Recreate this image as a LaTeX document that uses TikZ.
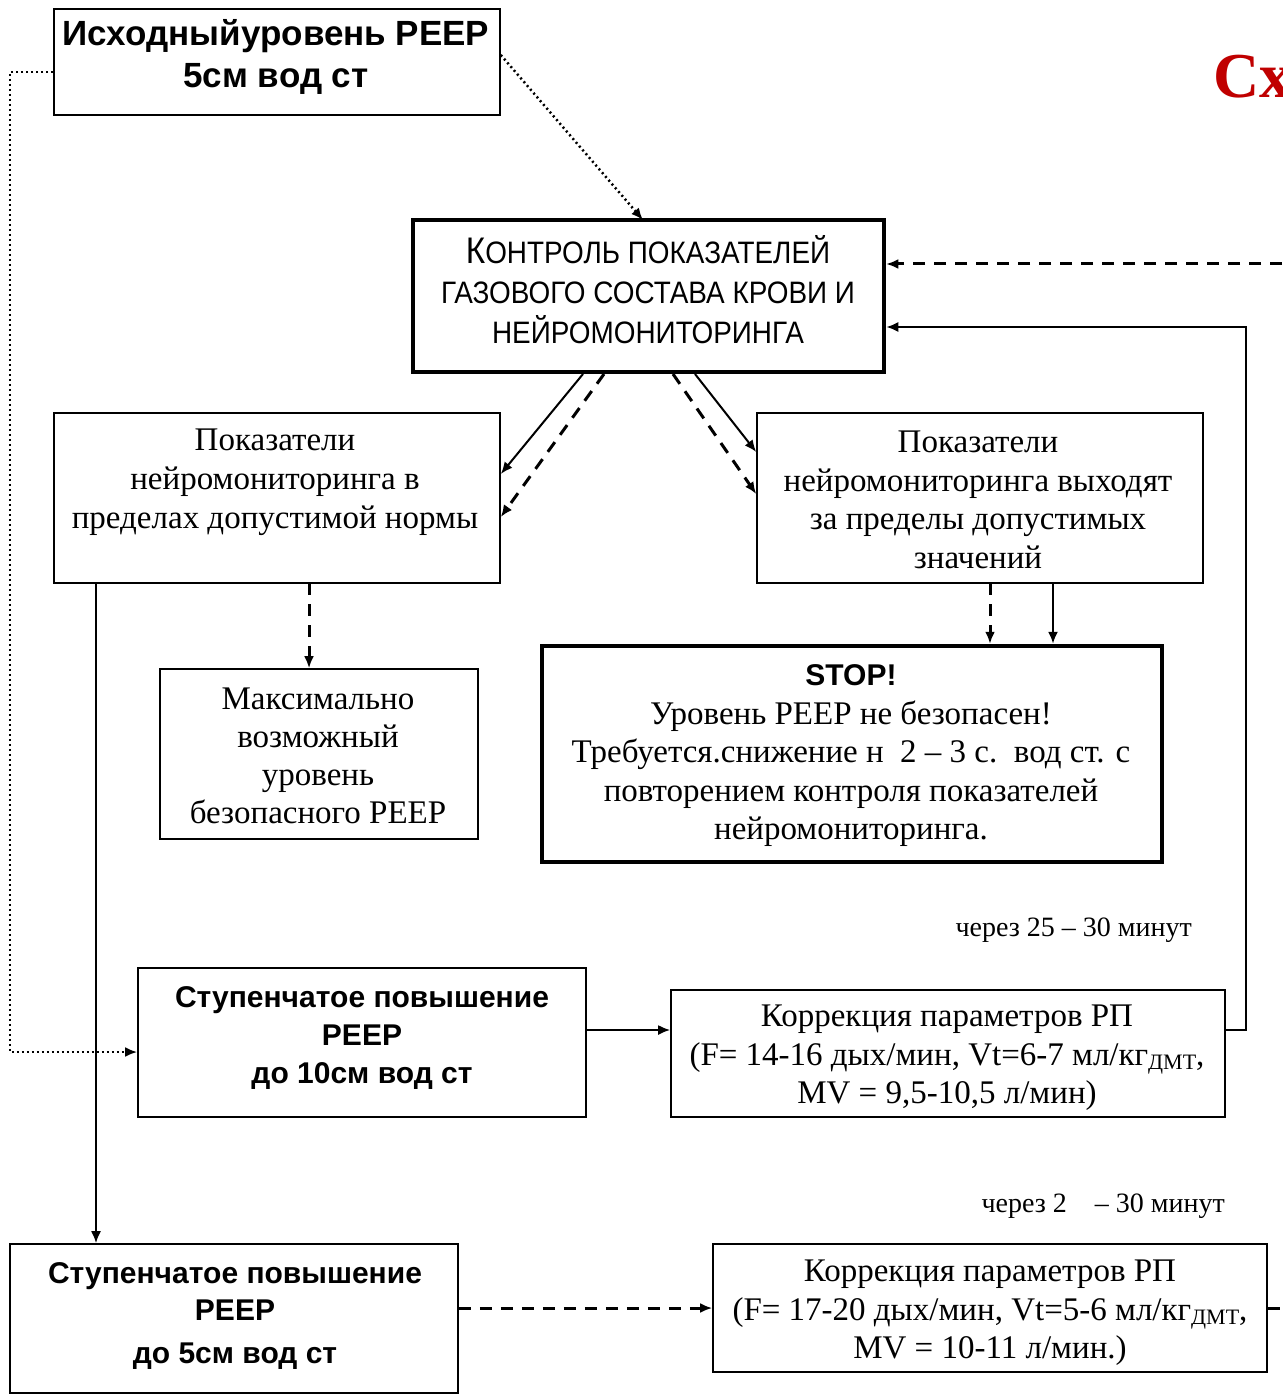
\documentclass[tikz,border=0pt]{standalone}
\usepackage{fontspec}
\setmainfont{Liberation Serif}
\newfontfamily\sansf{Liberation Sans}
\newfontfamily\narrowf{Liberation Sans}[FakeStretch=0.9]
\usetikzlibrary{arrows.meta}
\definecolor{titlered}{HTML}{C00000}
\begin{document}
\begin{tikzpicture}[x=1pt,y=-1pt,
  >={Latex[length=12pt,width=10pt]},
  box/.style={draw, line width=1.6pt, inner sep=0pt},
  thickbox/.style={draw, line width=4.5pt, inner sep=0pt},
  sertext/.style={align=center, inner sep=0pt, font=\fontsize{33}{38.5}\selectfont},
  sanstext/.style={align=center, inner sep=0pt, font=\sansf\bfseries\fontsize{30}{38.5}\selectfont},
  smalltext/.style={inner sep=0pt, font=\fontsize{28}{30}\selectfont},
  conn/.style={line width=2pt, ->},
  dashconn/.style={line width=3pt, dash pattern=on 12pt off 9pt, ->},
  dotconn/.style={line width=2.5pt, dash pattern=on 2pt off 3pt, ->}
]
\useasboundingbox (0,0) rectangle (1282,1396);
\fill[white] (0,0) rectangle (1282,1396);

% title (cut at page edge)
\begin{scope}
\clip (0,0) rectangle (1282,1396);
\node[anchor=west, inner sep=0pt, text=titlered, font=\bfseries\fontsize{64}{70}\selectfont] (title) at (1213,77) {Схема};
\end{scope}

% boxes
\node[box, minimum width=446pt, minimum height=106pt] (A) at (277,62) {};
\node[sanstext, font=\sansf\bfseries\fontsize{35}{42}\selectfont] (At) at (276,57) {Исходныйуровень PEEP\\5см вод ст};

\node[thickbox, minimum width=471pt, minimum height=152pt] (B) at (648.5,296) {};
\node[align=center, inner sep=0pt, font=\narrowf\fontsize{31}{40}\selectfont] (Bt) at (648,290)
  {{\fontsize{37}{40}\selectfont К}ОНТРОЛЬ ПОКАЗАТЕЛЕЙ\\ГАЗОВОГО СОСТАВА КРОВИ И\\НЕЙРОМОНИТОРИНГА};

\node[box, minimum width=446pt, minimum height=170pt] (C) at (277,498) {};
\node[sertext, font=\fontsize{33}{39}\selectfont] (Ct) at (275,482) {Показатели\\нейромониторинга в\\пределах допустимой нормы};

\node[box, minimum width=446pt, minimum height=170pt] (D) at (980,498) {};
\node[sertext] (Dt) at (978,500) {Показатели\\нейромониторинга выходят\\за пределы допустимых\\значений};

\node[box, minimum width=318pt, minimum height=170pt] (E) at (319,754) {};
\node[sertext, font=\fontsize{33}{38}\selectfont] (Et) at (318,756) {Максимально\\возможный\\уровень\\безопасного PEEP};

\node[thickbox, minimum width=620pt, minimum height=216pt] (F) at (852,754) {};
\node[sertext] (Ft) at (851,756) {{\sansf\bfseries\fontsize{30}{38.5}\selectfont STOP!}\\Уровень PEEP не безопасен!\\Требуется.снижение н\enspace 2 – 3 с.\enspace вод ст. с\\повторением контроля показателей\\нейромониторинга.};

\node[smalltext, anchor=east] (t1) at (1192,930) {через 25 – 30 минут};

\node[box, minimum width=448pt, minimum height=149pt] (G) at (362,1042.5) {};
\node[sanstext, font=\sansf\bfseries\fontsize{30}{38}\selectfont] (Gt) at (362,1038) {Ступенчатое повышение\\PEEP\\до 10см вод ст};

\node[box, minimum width=554pt, minimum height=127pt] (H) at (948,1053.5) {};
\node[sertext] (Ht) at (947,1058) {Коррекция параметров РП\\(F= 14-16 дых/мин, Vt=6-7 мл/кг\raisebox{-0.3ex}{\fontsize{22}{22}\selectfont ДМТ},\\MV = 9,5-10,5 л/мин)};

\node[smalltext, anchor=east] (t2) at (1225,1206) {через 2\quad – 30 минут};

\node[box, minimum width=448pt, minimum height=149pt] (I) at (234,1318.5) {};
\node[sanstext, font=\sansf\bfseries\fontsize{30}{37}\selectfont] (It) at (235,1316) {Ступенчатое повышение\\PEEP\\[6pt]до 5см вод ст};

\node[box, minimum width=554pt, minimum height=128pt] (J) at (990,1308) {};
\node[sertext] (Jt) at (990,1313) {Коррекция параметров РП\\(F= 17-20 дых/мин, Vt=5-6 мл/кг\raisebox{-0.3ex}{\fontsize{22}{22}\selectfont ДМТ},\\MV = 10-11 л/мин.)};

% free ends
\coordinate (rightin) at (1282,264);
\coordinate (rightout) at (1282,1308);

% connectors
\draw[dotconn] (A.west |- 0,72) -- (10,72) -- (10,1052) -- (G.west |- 0,1052);
\draw[dotconn] (A.north east |- 0,55) -- (643,220);
\draw[dashconn] (rightin) -- (B.east |- rightin);
\draw[conn] (H.east |- 0,1030) -- (1246,1030) -- (1246,327) -- (B.east |- 0,327);
\draw[conn] (583,374) -- (C.east |- 0,474);
\draw[dashconn] (604,374) -- (C.east |- 0,517);
\draw[conn] (695,374) -- (D.west |- 0,452);
\draw[dashconn] (673,374) -- (D.west |- 0,494);
\draw[dashconn] (309,583) -- (E.north -| 309,0);
\draw[dashconn] (990,583) -- (F.north -| 990,0);
\draw[conn] (1053,583) -- (F.north -| 1053,0);
\draw[conn] (96,583) -- (I.north -| 96,0);
\draw[conn] (G.east |- 0,1030) -- (H.west |- 0,1030);
\draw[dashconn] (I.east |- 0,1308) -- (J.west |- 0,1308);
\draw[line width=3pt, dash pattern=on 12pt off 9pt] (J.east |- 0,1308) -- (rightout);
\end{tikzpicture}
\end{document}
